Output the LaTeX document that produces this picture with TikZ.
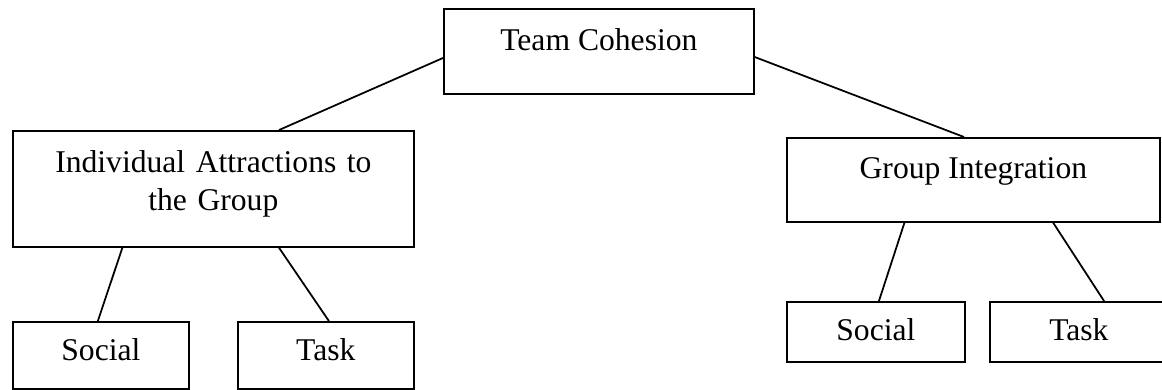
\documentclass[tikz,border=0pt]{standalone}
\usepackage{fontspec}
\setmainfont{Liberation Serif}
\usepackage{tikz}
\usetikzlibrary{calc}
\tikzset{
  box/.style={draw=black, line width=1pt, inner sep=0pt, anchor=north west,
    font=\fontsize{18}{21.6}\selectfont, align=center},
  link/.style={draw=black, line width=1pt}
}

\begin{document}
\begin{tikzpicture}
  \useasboundingbox (0,0) rectangle (23.24,-7.78);

  \node[box, minimum width=6.2cm, text height=0.84cm, text depth=0.86cm] (coh) at (8.86,-0.16) {Team Cohesion};
  \node[box, minimum width=8.02cm, text width=8.02cm, text height=0.84cm, text depth=1.48cm] (ind) at (0.24,-2.6) {Individual Attractions to\\the Group};
  \node[box, minimum width=7.46cm, text height=0.82cm, text depth=0.86cm] (grp) at (15.72,-2.74) {Group Integration};

  \node[box, minimum width=3.52cm, text height=0.78cm, text depth=0.56cm] (socL) at (0.24,-6.42) {Social};
  \node[box, minimum width=3.52cm, text height=0.78cm, text depth=0.56cm] (taskL) at (4.74,-6.42) {Task};
  \node[box, minimum width=3.56cm, text height=0.78cm, text depth=0.42cm] (socR) at (15.72,-6.02) {Social};
  \node[box, minimum width=3.56cm, text height=0.78cm, text depth=0.42cm] (taskR) at (19.78,-6.02) {Task};

  % top level
  \draw[link] ($(coh.north west)!0.576!(coh.south west)$) -- ($(ind.north west)!0.663!(ind.north east)$);
  \draw[link] ($(coh.north east)!0.565!(coh.south east)$) -- ($(grp.north west)!0.475!(grp.north east)$);

  % second level
  \draw[link] ($(ind.south west)!0.274!(ind.south east)$) -- ($(socL.north west)!0.483!(socL.north east)$);
  \draw[link] ($(ind.south west)!0.663!(ind.south east)$) -- ($(taskL.north west)!0.517!(taskL.north east)$);
  \draw[link] ($(grp.south west)!0.316!(grp.south east)$) -- ($(socR.north west)!0.517!(socR.north east)$);
  \draw[link] ($(grp.south west)!0.713!(grp.south east)$) -- ($(taskR.north west)!0.64!(taskR.north east)$);
\end{tikzpicture}
\end{document}
